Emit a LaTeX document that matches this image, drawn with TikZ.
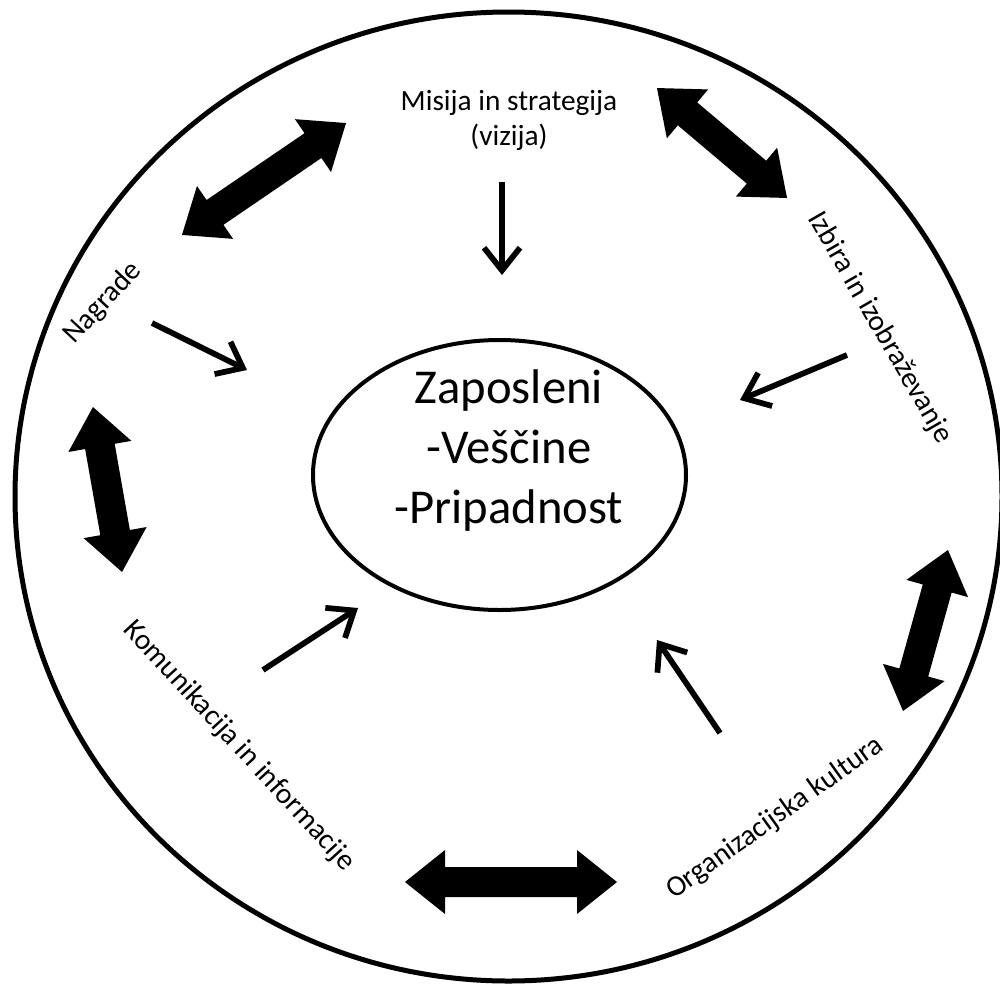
\documentclass[tikz,border=0pt]{standalone}
\usepackage{fontspec}
\setmainfont{Carlito}
\usetikzlibrary{arrows.meta,shapes.geometric}
\begin{document}
\begin{tikzpicture}[x=0.75pt,y=-0.75pt,
  lbl/.style={font=\fontsize{22}{26.25}\selectfont, inner sep=0pt, outer sep=0pt, align=center},
  big/.style={font=\fontsize{36.5}{45}\selectfont, inner sep=0pt, outer sep=0pt, align=center},
  thinarrow/.style={line width=4.3pt, -{Straight Barb[length=17pt,width=27pt]}},
  pics/blockarrow/.style={code={
    \fill[black] (-#1/2,0) -- (-#1/2+40,32) -- (-#1/2+40,15) -- (#1/2-40,15)
      -- (#1/2-40,32) -- (#1/2,0) -- (#1/2-40,-32) -- (#1/2-40,-15)
      -- (-#1/2+40,-15) -- (-#1/2+40,-32) -- cycle;
  }}
]
\useasboundingbox (0,0) rectangle (1000,986);

% outer ring and centre ellipse
\node[draw, ellipse, line width=3.75pt, minimum width=740.25pt, minimum height=726.75pt,
  inner sep=0pt, outer sep=0pt] (outer) at (508.5,496.5) {};
\node[draw, ellipse, line width=3pt, minimum width=279.75pt, minimum height=202.5pt,
  inner sep=0pt, outer sep=0pt] (emp) at (499.5,475) {};
\node[big, anchor=base] (emptxt) at (509,523) {Zaposleni\\-Veščine\\-Pripadnost};

% labels
\node[lbl, anchor=base] (mis) at (509,145) {Misija in strategija\\(vizija)};
\node[lbl, rotate=47] (nag) at (103,303) {Nagrade};
\node[lbl, rotate=-60] (izb) at (880,328) {Izbira in izobraževanje};
\node[lbl, rotate=-47.5] (kom) at (239,746) {Komunikacija in informacije};
\node[lbl, rotate=35.5] (org) at (775,818) {Organizacijska kultura};

% thin arrows towards the centre
\coordinate (a1s) at (502,182); \coordinate (a1e) at (502,275);
\coordinate (a2s) at (152,323); \coordinate (a2e) at (247,370);
\coordinate (a3s) at (847,355); \coordinate (a3e) at (740,400);
\coordinate (a4s) at (263,670); \coordinate (a4e) at (358,608);
\coordinate (a5s) at (720,733); \coordinate (a5e) at (657,640);
\draw[thinarrow] (a1s) -- (a1e);
\draw[thinarrow] (a2s) -- (a2e);
\draw[thinarrow] (a3s) -- (a3e);
\draw[thinarrow] (a4s) -- (a4e);
\draw[thinarrow] (a5s) -- (a5e);

% thick double arrows round the ring
\pic[rotate=34.3] (ba1) at (264,179) {blockarrow=198.6};
\pic[rotate=-40.2] (ba2) at (722,143) {blockarrow=170.3};
\pic[rotate=-80] (ba3) at (107.5,489.5) {blockarrow=167.5};
\pic[rotate=74.4] (ba4) at (925.5,630.5) {blockarrow=167.2};
\pic (ba5) at (511,882) {blockarrow=212};
\end{tikzpicture}
\end{document}
